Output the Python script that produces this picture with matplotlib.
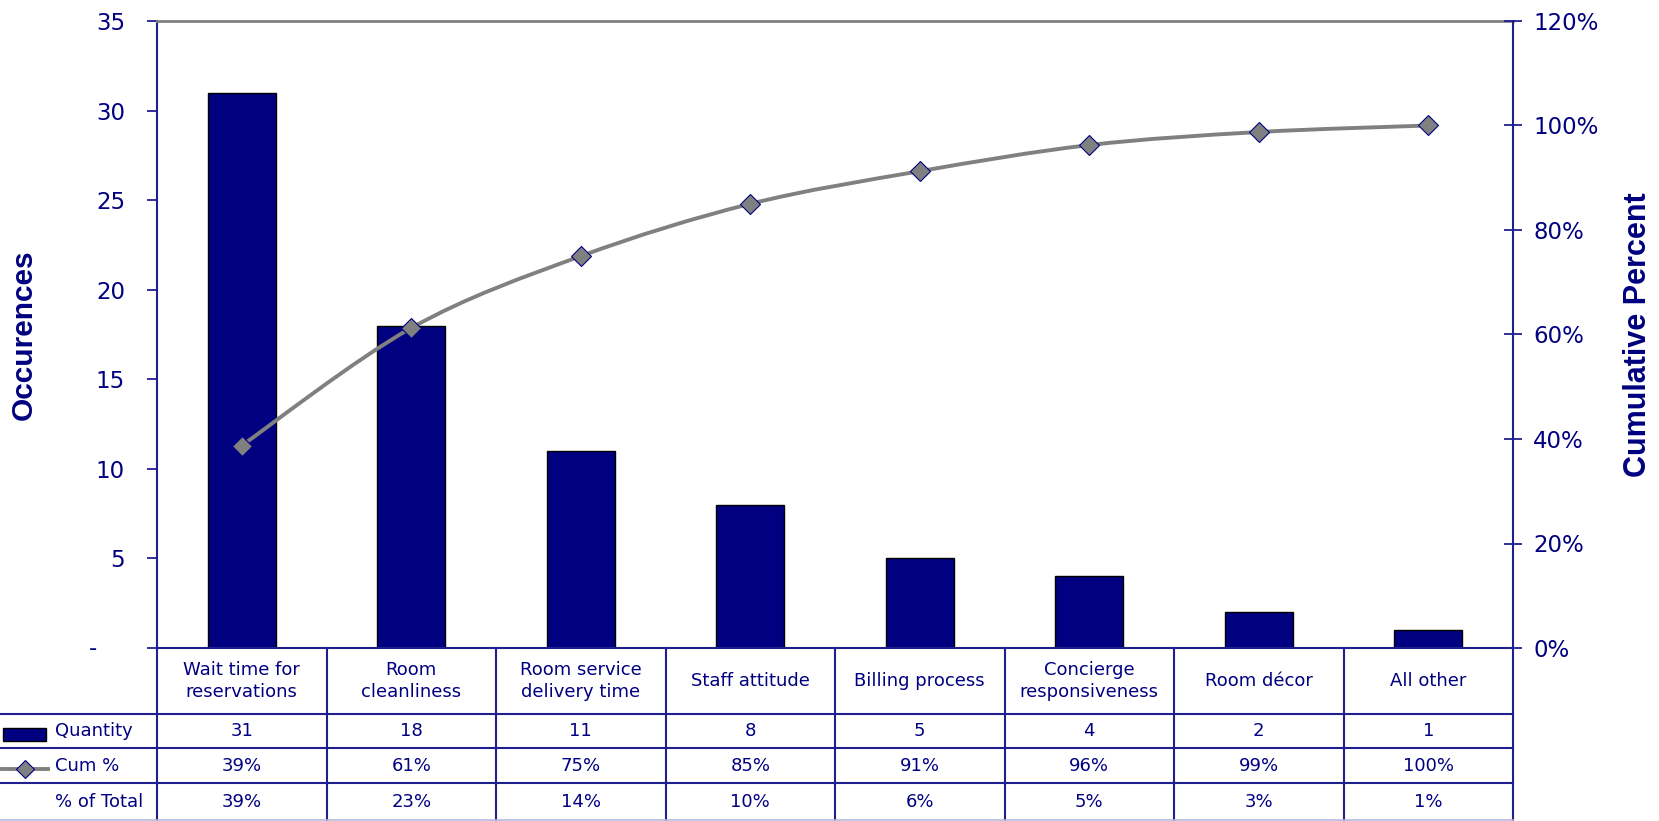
import matplotlib
matplotlib.use("Agg")
import matplotlib.pyplot as plt
from matplotlib.transforms import blended_transform_factory
from matplotlib.lines import Line2D
from matplotlib.patches import Rectangle, PathPatch
from matplotlib.path import Path

# ---------------- data ----------------
categories = ["Wait time for\nreservations", "Room\ncleanliness", "Room service\ndelivery time",
              "Staff attitude", "Billing process", "Concierge\nresponsiveness", "Room décor", "All other"]
quantity = [31, 18, 11, 8, 5, 4, 2, 1]
cum_pct = [38.75, 61.25, 75.0, 85.0, 91.25, 96.25, 98.75, 100.0]
cum_labels = ["39%", "61%", "75%", "85%", "91%", "96%", "99%", "100%"]
total_labels = ["39%", "23%", "14%", "10%", "6%", "5%", "3%", "1%"]
row_labels = ["Quantity", "Cum %", "% of Total"]
left_ticks = [0, 5, 10, 15, 20, 25, 30, 35]
left_tick_labels = ["-", "5", "10", "15", "20", "25", "30", "35"]
right_ticks = [0, 20, 40, 60, 80, 100, 120]
right_tick_labels = ["0%", "20%", "40%", "60%", "80%", "100%", "120%"]

# ---------------- style ----------------
NAVY = "#000080"
AXIS = "#1f1f8f"
GRAY = "#808080"
plt.rcParams["font.family"] = ["DejaVu Sans"]

W, H = 1659, 821
fig = plt.figure(figsize=(W / 100, H / 100), dpi=100)
L, R, T, B = 157, 1513, 21, 648


def fx(px):
    return px / W


def fy(py):
    return 1 - py / H


ax = fig.add_axes([fx(L), fy(B), (R - L) / W, (B - T) / H])
xs = list(range(len(quantity)))
ax.bar(xs, quantity, width=0.4, color=NAVY, edgecolor="black", linewidth=1.0, zorder=2)
ax.set_xlim(-0.5, len(quantity) - 0.5)
ax.set_ylim(0, 35)
ax.set_xticks([])
ax.set_yticks(left_ticks)
ax.set_yticklabels(["" if t == "-" else t for t in left_tick_labels])
ax.tick_params(axis="y", direction="out", length=7, width=1.3, color=AXIS,
               labelsize=16.5, labelcolor=NAVY, pad=16)
for side in ["left", "bottom"]:
    ax.spines[side].set_color(AXIS)
    ax.spines[side].set_linewidth(1.5)
ax.spines["top"].set_color(GRAY)
ax.spines["top"].set_linewidth(2)
ax.spines["right"].set_visible(False)
for t, lab in zip(left_ticks, left_tick_labels):
    if lab == "-":
        ax.annotate(lab, xy=(0, t), xycoords=ax.get_yaxis_transform(),
                    xytext=(-64 * 0.72, 0), textcoords="offset points",
                    ha="center", va="center", fontsize=16.5, color=NAVY)

ax.set_ylabel("Occurences", fontsize=21.5, fontweight="bold", color=NAVY,
              family=["Liberation Sans", "DejaVu Sans"])
ax.yaxis.set_label_coords((38 - L) / (R - L), 0.5)

ax2 = ax.twinx()
# smoothed line (Catmull-Rom style Bezier through the data points, like Excel)
n = len(cum_pct)
pts = list(zip(xs, cum_pct))
verts = [pts[0]]
codes = [Path.MOVETO]
for i in range(n - 1):
    p0 = pts[i - 1] if i > 0 else pts[i]
    p1 = pts[i]
    p2 = pts[i + 1]
    p3 = pts[i + 2] if i + 2 < n else pts[i + 1]
    c1 = (p1[0] + (p2[0] - p0[0]) / 6, p1[1] + (p2[1] - p0[1]) / 6)
    c2 = (p2[0] - (p3[0] - p1[0]) / 6, p2[1] - (p3[1] - p1[1]) / 6)
    verts += [c1, c2, p2]
    codes += [Path.CURVE4] * 3
ax2.add_patch(PathPatch(Path(verts, codes), facecolor="none", edgecolor=GRAY, lw=2.8,
                        zorder=3, capstyle="round"))
ax2.plot(xs, cum_pct, lw=0, marker="D", ms=10, mfc=GRAY, mec=NAVY, mew=0.8, zorder=4)
ax2.set_ylim(0, 120)
ax2.set_yticks(right_ticks)
ax2.set_yticklabels(right_tick_labels)
ax2.tick_params(axis="y", direction="inout", length=13, width=1.3, color=AXIS,
                labelsize=16.5, labelcolor=NAVY, pad=8)
for side in ["left", "top", "bottom"]:
    ax2.spines[side].set_visible(False)
ax2.spines["right"].set_color(AXIS)
ax2.spines["right"].set_linewidth(1.5)
ax2.set_ylabel("Cumulative Percent", fontsize=22, fontweight="bold", color=NAVY,
               rotation=90, family=["Liberation Sans", "DejaVu Sans"])
ax2.yaxis.set_label_coords((1623 - L) / (R - L), 0.5)

# ---------------- data table ----------------
tr = blended_transform_factory(ax.transData, fig.transFigure)
rows_px = [714, 748, 783]
for i in range(len(quantity) + 1):
    fig.add_artist(Line2D([i - 0.5, i - 0.5], [fy(B), fy(H)], transform=tr,
                          color=AXIS, lw=1.5))
for py in rows_px:
    fig.add_artist(Line2D([0, fx(R)], [fy(py), fy(py)], transform=fig.transFigure,
                          color=AXIS, lw=1.5))
fig.add_artist(Line2D([0, fx(R)], [fy(820), fy(820)], transform=fig.transFigure,
                      color="#b8b8e0", lw=1.2))

TFS = 13
for i, c in enumerate(categories):
    fig.text(i, fy(681), c, transform=tr, ha="center", va="center", fontsize=TFS,
             color=NAVY, linespacing=1.3)
    fig.text(i, fy(731), str(quantity[i]), transform=tr, ha="center", va="center",
             fontsize=TFS, color=NAVY)
    fig.text(i, fy(765.5), cum_labels[i], transform=tr, ha="center", va="center",
             fontsize=TFS, color=NAVY)
    fig.text(i, fy(802), total_labels[i], transform=tr, ha="center", va="center",
             fontsize=TFS, color=NAVY)

for lab, py in zip(row_labels, [731, 765.5, 802]):
    fig.text(fx(55), fy(py), lab, ha="left", va="center", fontsize=TFS, color=NAVY)

# legend keys
fig.add_artist(Rectangle((fx(3), fy(741)), fx(46) - fx(3), fy(728) - fy(741),
                         transform=fig.transFigure, facecolor=NAVY, edgecolor="black",
                         lw=1.0))
fig.add_artist(Line2D([fx(2), fx(48)], [fy(769), fy(769)], transform=fig.transFigure,
                      color=GRAY, lw=2.8))
fig.add_artist(Line2D([fx(25)], [fy(769)], transform=fig.transFigure, marker="D",
                      ms=9, mfc=GRAY, mec=NAVY, mew=0.8, lw=0))

fig.savefig("out.png", dpi=100, facecolor="white")
